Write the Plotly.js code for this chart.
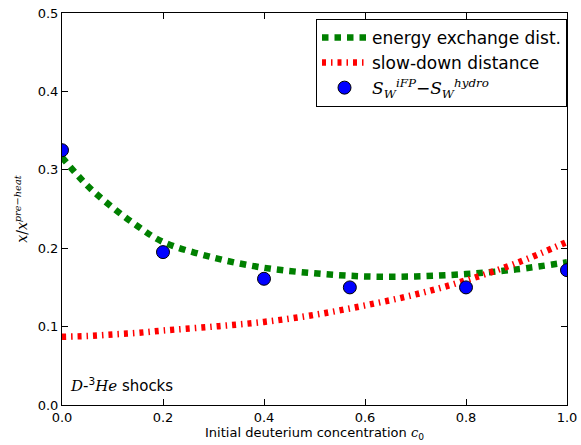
<!DOCTYPE html>
<html><head><meta charset="utf-8">
<script src="https://cdn.plot.ly/plotly-3.0.1.min.js"></script>
<style>body{margin:0;background:#fff}#plot{width:581px;height:445px}</style>
</head><body><div id="plot"></div>
<script>
const curveX = [0.0, 0.05, 0.1, 0.15, 0.2, 0.3, 0.4, 0.5, 0.6, 0.7, 0.8, 0.9, 1.0];
const energyExchange = [0.316, 0.280, 0.252, 0.228, 0.208, 0.188, 0.175, 0.168, 0.164, 0.164, 0.167, 0.173, 0.182];
const slowDown = [0.087, 0.088, 0.090, 0.092, 0.095, 0.100, 0.106, 0.115, 0.127, 0.141, 0.159, 0.181, 0.208];
const pointX = [0.0, 0.2, 0.4, 0.57, 0.8, 1.0];
const pointY = [0.325, 0.195, 0.161, 0.150, 0.150, 0.172];
const xTicks = [0.0, 0.2, 0.4, 0.6, 0.8, 1.0];
const yTicks = [0.0, 0.1, 0.2, 0.3, 0.4, 0.5];

const font = {family: 'DejaVu Sans', size: 13, color: '#000'};
const M = (s) => '<span style="font-family:DejaVu Serif;font-style:italic">' + s + '</span>';
const traces = [
  {x: curveX, y: energyExchange, mode: 'lines', line: {shape: 'spline', color: '#008000', width: 6.5, dash: '6.5px,6px'}, name: 'energy exchange dist.'},
  {x: curveX, y: slowDown, mode: 'lines', line: {shape: 'spline', color: '#ff0000', width: 6.5, dash: '4px,5px,1.5px,5px'}, name: 'slow-down distance'},
  {x: pointX, y: pointY, mode: 'markers', marker: {color: '#0000ff', size: 13, line: {color: '#000', width: 1}},
   name: M('S') + '<sub>' + M('W') + '</sub><sup>' + M('iFP') + '</sup>−' + M('S') + '<sub>' + M('W') + '</sub><sup>' + M('hydro') + '</sup>'}
];
const axisCommon = {showgrid: false, zeroline: false, showline: true, linecolor: '#000', linewidth: 1, mirror: 'ticks', ticks: 'inside', ticklen: 6, tickcolor: '#000', tickfont: font};
const layout = {
  width: 581, height: 445,
  margin: {l: 62, r: 14, t: 13, b: 40},
  paper_bgcolor: '#fff', plot_bgcolor: '#fff',
  font: font,
  showlegend: true,
  legend: {x: 1.0, xanchor: 'right', y: 0.985, yanchor: 'top', bordercolor: '#000', borderwidth: 1, bgcolor: '#fff', font: {family: 'DejaVu Sans', size: 17, color: '#000'}, tracegroupgap: 0, itemwidth: 45},
  xaxis: Object.assign({}, axisCommon, {range: [0, 1], tickvals: xTicks, ticktext: xTicks.map(v => v.toFixed(1)),
    title: {text: 'Initial deuterium concentration ' + M('c') + '<sub>0</sub>', font: {family: 'DejaVu Sans', size: 13, color: '#000'}, standoff: 4}}),
  yaxis: Object.assign({}, axisCommon, {range: [0, 0.5], tickvals: yTicks, ticktext: yTicks.map(v => v.toFixed(1)),
    title: {text: M('x') + '/' + M('x') + '<sup>' + M('pre−heat') + '</sup>', font: {family: 'DejaVu Serif', size: 14, color: '#000'}, standoff: 6}}),
  annotations: [{xref: 'paper', yref: 'paper', x: 0.012, y: 0.05, xanchor: 'left', yanchor: 'middle', showarrow: false,
    text: M('D') + '-<sup>3</sup>' + M('He') + ' shocks', font: {family: 'DejaVu Sans', size: 15, color: '#000'}}]
};
Plotly.newPlot('plot', traces, layout, {displayModeBar: false, staticPlot: true});
</script></body></html>
